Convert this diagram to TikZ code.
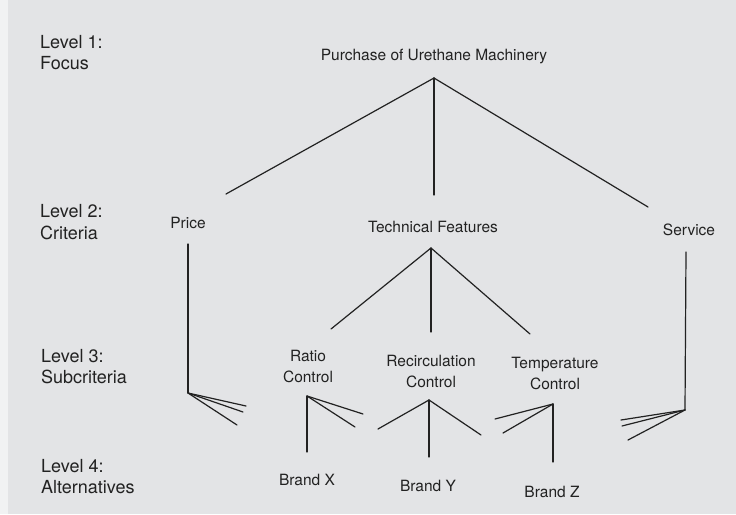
\documentclass[tikz,border=0pt]{standalone}
\usepackage{fontspec}
\setmainfont{TeX Gyre Heros}
\definecolor{paper}{HTML}{E3E4E6}
\definecolor{pageedge}{HTML}{F1F2F3}
\definecolor{ink}{HTML}{222222}
\tikzset{
  lbl/.style={inner sep=0pt, text=ink, font=\fontsize{15.5}{21}\selectfont},
  levellbl/.style={inner sep=0pt, text=ink, font=\fontsize{18}{21.5}\selectfont,
    anchor=west, align=left},
  itemlbl/.style={lbl, align=center},
  link/.style={draw=ink, line width=1.2pt, line cap=round}
}
\begin{document}
\begin{tikzpicture}[x=1pt, y=-1pt]
  % page
  \fill[pageedge] (0,0) rectangle (736,514);
  \fill[paper] (8,0) rectangle (736,514);
  \useasboundingbox (0,0) rectangle (736,514);

  % level captions
  \node[levellbl] (l1) at (40,52.5)  {Level 1:\\Focus};
  \node[levellbl] (l2) at (40,222)   {Level 2:\\Criteria};
  \node[levellbl] (l3) at (41,366.5) {Level 3:\\Subcriteria};
  \node[levellbl] (l4) at (41,476.5) {Level 4:\\Alternatives};

  % level 1: focus
  \node[itemlbl] (goal) at (434,57) {Purchase of Urethane Machinery};

  % level 2: criteria
  \node[itemlbl] (price)   at (188,223) {Price};
  \node[itemlbl] (tech)    at (433,227) {Technical Features};
  \node[itemlbl] (service) at (689,230) {Service};

  % level 3: subcriteria
  \node[itemlbl] (ratio) at (308,366)   {Ratio\\Control};
  \node[itemlbl] (recir) at (431,371)   {Recirculation\\Control};
  \node[itemlbl] (temp)  at (555,373.5) {Temperature\\Control};

  % level 4: alternatives
  \node[itemlbl] (bx) at (307,480) {Brand X};
  \node[itemlbl] (by) at (428,486) {Brand Y};
  \node[itemlbl] (bz) at (552,492) {Brand Z};

  % branching points and line ends
  \coordinate (goal-fork) at (434,78);
  \coordinate (price-in)  at (226,194);
  \coordinate (tech-in)   at (434,195);
  \coordinate (serv-in)   at (648,207);

  \coordinate (price-top)  at (188,244);
  \coordinate (price-fork) at (188,393);
  \coordinate (price-a) at (246,406);
  \coordinate (price-b) at (243,412);
  \coordinate (price-c) at (237,425);

  \coordinate (tech-fork) at (431,248);
  \coordinate (ratio-in)  at (331,329);
  \coordinate (recir-in)  at (431,332);
  \coordinate (temp-in)   at (530,334);

  \coordinate (serv-top)  at (686,252);
  \coordinate (serv-fork) at (685,410);
  \coordinate (serv-a) at (621,420);
  \coordinate (serv-b) at (622,426);
  \coordinate (serv-c) at (628,440);

  \coordinate (ratio-fork) at (307,396);
  \coordinate (ratio-a) at (363,414);
  \coordinate (ratio-b) at (355,427);
  \coordinate (bx-in)   at (307,452);

  \coordinate (recir-fork) at (429,400);
  \coordinate (recir-a) at (378,429);
  \coordinate (recir-b) at (481,435);
  \coordinate (by-in)   at (429,457);

  \coordinate (temp-fork) at (553,404);
  \coordinate (temp-a) at (495,419);
  \coordinate (temp-b) at (503,433);
  \coordinate (bz-in)  at (553,462);

  % focus to criteria
  \draw[link] (goal-fork) -- (price-in);
  \draw[link] (goal-fork) -- (tech-in);
  \draw[link] (goal-fork) -- (serv-in);

  % price, no subcriteria: straight down to the alternatives
  \draw[link] (price-top) -- (price-fork);
  \draw[link] (price-fork) -- (price-a);
  \draw[link] (price-fork) -- (price-b);
  \draw[link] (price-fork) -- (price-c);

  % technical features to subcriteria
  \draw[link] (tech-fork) -- (ratio-in);
  \draw[link] (tech-fork) -- (recir-in);
  \draw[link] (tech-fork) -- (temp-in);

  % service, no subcriteria
  \draw[link] (serv-top) -- (serv-fork);
  \draw[link] (serv-fork) -- (serv-a);
  \draw[link] (serv-fork) -- (serv-b);
  \draw[link] (serv-fork) -- (serv-c);

  % subcriteria to alternatives
  \draw[link] (ratio-fork) -- (ratio-a);
  \draw[link] (ratio-fork) -- (ratio-b);
  \draw[link] (ratio-fork) -- (bx-in);

  \draw[link] (recir-fork) -- (recir-a);
  \draw[link] (recir-fork) -- (recir-b);
  \draw[link] (recir-fork) -- (by-in);

  \draw[link] (temp-fork) -- (temp-a);
  \draw[link] (temp-fork) -- (temp-b);
  \draw[link] (temp-fork) -- (bz-in);
\end{tikzpicture}
\end{document}
